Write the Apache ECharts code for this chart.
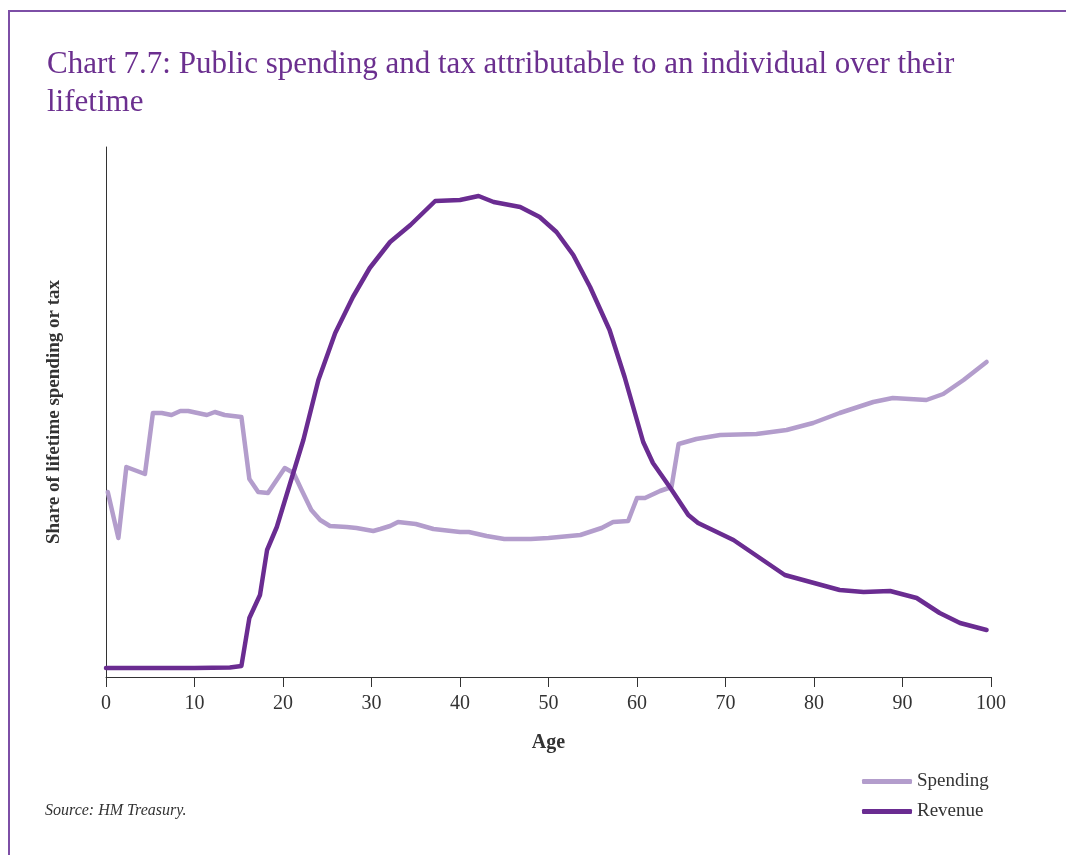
<!DOCTYPE html>
<html>
<head>
<meta charset="utf-8">
<script src="https://cdn.jsdelivr.net/npm/echarts@6/dist/echarts.min.js"></script>
<style>
  html, body { margin: 0; padding: 0; background: #fff; }
  #frame { position: absolute; left: 8px; top: 10px; width: 1070px; height: 860px;
           border-left: 2px solid #7d4fa6; border-top: 2px solid #7d4fa6; }
  #chart { position: absolute; left: 0; top: 0; width: 1066px; height: 855px; }
</style>
</head>
<body>
<div id="frame"></div>
<div id="chart"></div>
<script>
// Age (years) and share of lifetime spending/tax (arbitrary units; axis unlabelled)
const spendingAges = [0.2, 1.4, 2.3, 4.4, 5.3, 6.3, 7.4, 8.4, 9.3, 11.4, 12.3, 13.4, 15.3, 16.2, 17.2, 18.3, 20.2, 21.2, 22.1, 23.2, 24.2, 25.3, 27.2, 28.3, 30.2, 31.0, 32.1, 33, 35, 37, 40, 41, 43, 45, 48, 50, 53.6, 56, 57.3, 59.0, 60.0, 60.9, 62.6, 63.9, 64.7, 66.7, 69.4, 73.5, 76.9, 79.9, 82.9, 86.7, 88.9, 92.7, 94.6, 96.9, 99.5];
const spendingValues = [185, 139, 210, 203, 264, 264, 262, 266, 266, 262, 265, 262, 260, 198, 185, 184, 209, 204, 187, 167, 157, 151, 150, 149, 146, 148, 151, 155, 153, 148, 145, 145, 141, 138, 138, 139, 142, 149, 155, 156, 179, 179, 186, 190, 233, 238, 242, 243, 247, 254, 264, 275, 279, 277, 283, 297, 315];

const revenueAges = [0, 5, 10, 14, 15.3, 16.2, 17.4, 18.2, 19.3, 22.3, 24.0, 25.9, 27.9, 29.8, 32.1, 34.4, 37.2, 40.0, 42.1, 43.8, 46.8, 49.0, 50.9, 52.8, 54.7, 56.9, 58.6, 60.7, 61.8, 63.7, 65.8, 66.9, 70.9, 76.7, 82.9, 85.6, 88.6, 91.6, 94.2, 96.5, 99.5];
const revenueValues = [9, 9, 9, 9.5, 11, 59, 82, 127, 150, 237, 297, 344, 380, 409, 435, 452, 476, 477, 481, 475, 470, 460, 445, 422, 390, 347, 300, 235, 214, 190, 162, 154, 137, 102, 87, 85, 86, 79, 64, 54, 47];

const xTicks = [0, 10, 20, 30, 40, 50, 60, 70, 80, 90, 100];
const seriesNames = ['Spending', 'Revenue'];

const titleText = 'Chart 7.7: Public spending and tax attributable to an individual over their\nlifetime';
const sourceText = 'Source: HM Treasury.';

const serif = '"Liberation Serif", "DejaVu Serif", serif';
const spendColor = '#b39dcc';
const revColor = '#6a2c91';

const chart = echarts.init(document.getElementById('chart'), null, { renderer: 'canvas' });
chart.setOption({
  backgroundColor: 'transparent',
  animation: false,
  title: {
    text: titleText,
    left: 42, top: 41,
    textStyle: { fontFamily: serif, fontSize: 31, fontWeight: 'normal', color: '#6b2f8f', lineHeight: 38 }
  },
  legend: {
    orient: 'vertical',
    left: 857, top: 767,
    itemWidth: 50, itemHeight: 5, itemGap: 11,
    icon: 'roundRect',
    textStyle: { fontFamily: serif, fontSize: 19, color: '#333', padding: [0, 0, 0, 0] },
    data: seriesNames
  },
  graphic: [{
    type: 'text', left: 45, top: 803,
    style: { text: sourceText, font: 'italic 16px ' + serif, fill: '#333' }
  }],
  grid: { left: 106, right: 75, top: 147, bottom: 178 },
  xAxis: {
    type: 'value', min: 0, max: 100, interval: 10,
    axisLine: { lineStyle: { color: '#333', width: 1 } },
    axisTick: { show: true, length: 10, lineStyle: { color: '#333' } },
    axisLabel: { fontFamily: serif, fontSize: 20, color: '#333', margin: 17,
      formatter: v => xTicks.includes(v) ? String(v) : '' },
    splitLine: { show: false },
    name: 'Age', nameLocation: 'middle', nameGap: 56,
    nameTextStyle: { fontFamily: serif, fontSize: 20, fontWeight: 'bold', color: '#333' }
  },
  yAxis: {
    type: 'value', min: 0, max: 530,
    axisLine: { show: true, lineStyle: { color: '#333', width: 1 } },
    axisTick: { show: false },
    axisLabel: { show: false },
    splitLine: { show: false },
    name: 'Share of lifetime spending or tax', nameLocation: 'middle', nameRotate: 90, nameGap: 42,
    nameTextStyle: { fontFamily: serif, fontSize: 19, fontWeight: 'bold', color: '#333' }
  },
  series: [
    {
      name: seriesNames[0], type: 'line', showSymbol: false, symbol: 'none',
      data: spendingAges.map((a, i) => [a, spendingValues[i]]),
      lineStyle: { color: spendColor, width: 4.5, cap: 'round', join: 'round' },
      itemStyle: { color: spendColor }
    },
    {
      name: seriesNames[1], type: 'line', showSymbol: false, symbol: 'none',
      data: revenueAges.map((a, i) => [a, revenueValues[i]]),
      lineStyle: { color: revColor, width: 4.5, cap: 'round', join: 'round' },
      itemStyle: { color: revColor }
    }
  ]
});
</script>
</body>
</html>
